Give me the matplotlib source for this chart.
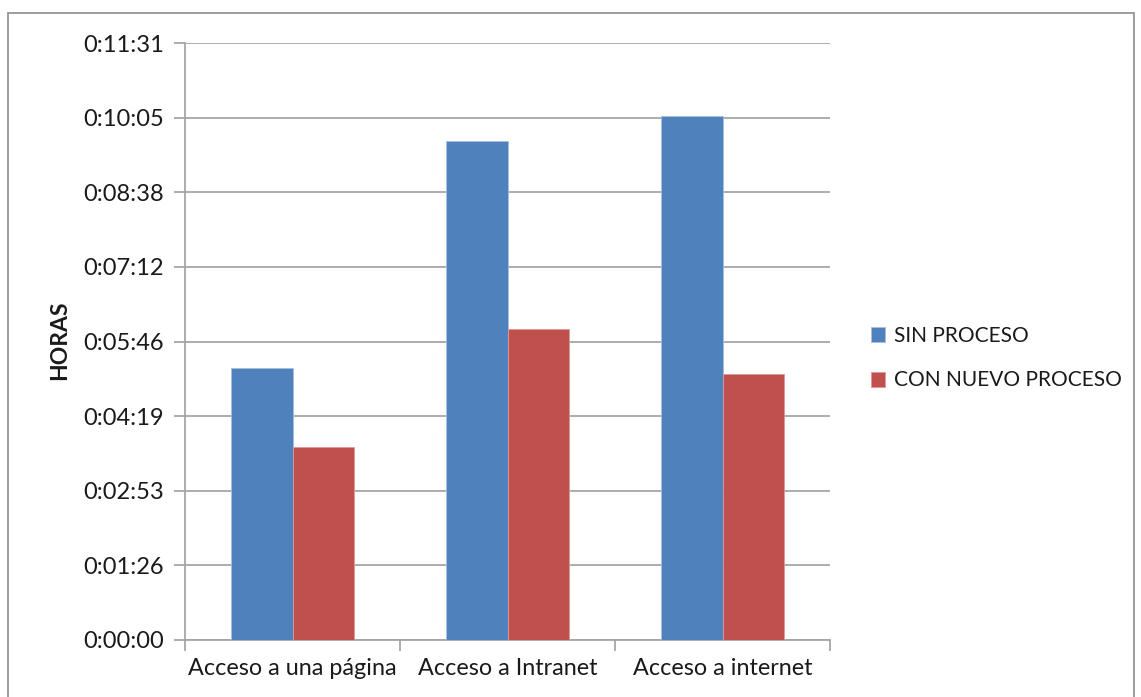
import matplotlib
matplotlib.use("Agg")
import matplotlib.pyplot as plt
from matplotlib.patches import Rectangle
from matplotlib.ticker import FixedLocator, FuncFormatter
import numpy as np

categories = ["Acceso a una página", "Acceso a Intranet", "Acceso a internet"]
series_names = ["SIN PROCESO", "CON NUEVO PROCESO"]
# durations in seconds
sin_proceso = [315, 578, 607]
con_nuevo_proceso = [223, 360, 308]
colors = ["#4F81BD", "#C0504D"]

day = 86400.0
tick_values = [i * 0.001 * day for i in range(9)]

plt.rcParams["font.family"] = ["Lato", "DejaVu Sans"]

W, H = 1141, 697
fig = plt.figure(figsize=(W / 100, H / 100), dpi=100)

# outer chart frame
fig.patches.append(Rectangle((8 / W, -0.01), (1134 - 8) / W, (H - 13) / H + 0.01,
                             transform=fig.transFigure, fill=False,
                             edgecolor="#8C8C8C", linewidth=1.2))

left, right, top, bottom = 185, 830, 43, 640
ax = fig.add_axes([left / W, 1 - bottom / H, (right - left) / W, (bottom - top) / H])

x = np.arange(len(categories))
w = 1 / 3.5
b1 = ax.bar(x - w / 2, sin_proceso, width=w, color=colors[0], edgecolor="#A8C0E0",
            linewidth=0.6, label=series_names[0], zorder=3)
b2 = ax.bar(x + w / 2, con_nuevo_proceso, width=w, color=colors[1], edgecolor="#E09896",
            linewidth=0.6, label=series_names[1], zorder=3)

ax.set_xlim(-0.5, len(categories) - 0.5)
ax.set_ylim(0, tick_values[-1])


def fmt_time(v, pos=None):
    s = int(round(v))
    return f"{s // 3600}:{(s % 3600) // 60:02d}:{s % 60:02d}"


ax.yaxis.set_major_locator(FixedLocator(tick_values))
ax.yaxis.set_major_formatter(FuncFormatter(fmt_time))
ax.grid(axis="y", color="#A6A6A6", linewidth=1.3, zorder=0)

ax.set_xticks(x)
ax.set_xticklabels(categories)
ax.xaxis.set_minor_locator(FixedLocator(np.arange(-0.5, len(categories), 1.0)))
ax.tick_params(axis="x", which="major", length=0, pad=13, labelsize=16.8, colors="#1a1a1a")
ax.tick_params(axis="x", which="minor", length=8, width=1.3, color="#A6A6A6")
ax.tick_params(axis="y", length=8, width=1.3, color="#A6A6A6", pad=7,
               labelsize=17, labelcolor="#1a1a1a")

for side in ["top", "right"]:
    ax.spines[side].set_visible(False)
for side in ["left", "bottom"]:
    ax.spines[side].set_color("#A6A6A6")
    ax.spines[side].set_linewidth(1.3)

fig.text(60 / W, 1 - 340 / H, "HORAS", rotation=90, ha="center", va="center",
         fontsize=16.5, fontweight="bold", color="#1a1a1a")

leg = fig.legend(handles=[b1, b2], labels=series_names, loc="center left",
                 bbox_to_anchor=(852 / W, 1 - 358 / H), frameon=False,
                 fontsize=15, handlelength=0.7, handleheight=0.7,
                 handletextpad=0.4, labelspacing=1.2)
for t in leg.get_texts():
    t.set_color("#1a1a1a")

fig.savefig("out.png", dpi=100)
